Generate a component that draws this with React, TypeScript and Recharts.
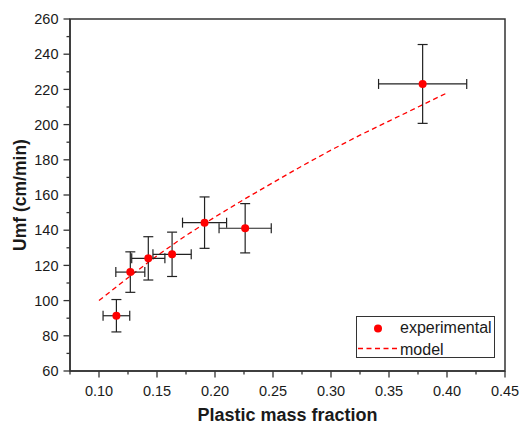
import React from 'react';
import { ComposedChart, XAxis, YAxis, Scatter, Line, ErrorBar, ReferenceArea, Legend } from 'recharts';

// Experimental data
const massFraction = [0.115, 0.127, 0.1425, 0.163, 0.191, 0.226, 0.379];
const umf = [91.4, 116.2, 124.0, 126.3, 144.3, 141.1, 223.1];
const massFractionErr = [0.0115, 0.0125, 0.0143, 0.0165, 0.019, 0.0225, 0.038];
const umfErr = [9.2, 11.5, 12.3, 12.6, 14.6, 14.0, 22.4];

// Model curve
const modelFraction = [0.1, 0.125, 0.15, 0.175, 0.2, 0.225, 0.25, 0.275, 0.3, 0.325, 0.35, 0.375, 0.4];
const modelUmf = [100, 113, 125.5, 137, 147.5, 157.5, 167, 176.5, 185.5, 194, 202, 210, 218];

// Ticks
const xTicks = [0.075, 0.1, 0.125, 0.15, 0.175, 0.2, 0.225, 0.25, 0.275, 0.3, 0.325, 0.35, 0.375, 0.4, 0.425, 0.45];
const yTicks = [60, 70, 80, 90, 100, 110, 120, 130, 140, 150, 160, 170, 180, 190, 200, 210, 220, 230, 240, 250, 260];
const xMajor = [0.1, 0.15, 0.2, 0.25, 0.3, 0.35, 0.4, 0.45];
const yMajor = [60, 80, 100, 120, 140, 160, 180, 200, 220, 240, 260];

const seriesNames = ['experimental', 'model'];

const expData = massFraction.map((x, i) => ({ x, y: umf[i], ex: massFractionErr[i], ey: umfErr[i] }));
const modelData = modelFraction.map((x, i) => ({ x, y: modelUmf[i] }));

const AXIS = '#333333';
const TEXT = '#1a1a1a';
const FONT = '"Liberation Sans", Arial, sans-serif';
const RED = '#ff0000';

const isMajor = (list: number[], v: number) => list.some((m) => Math.abs(m - v) < 1e-9);

const XTick = (props: any) => {
  const { x, y, payload } = props;
  const v = payload.value;
  const major = isMajor(xMajor, v);
  return (
    <g>
      <line x1={x} x2={x} y1={y} y2={y + (major ? 6.5 : 3.5)} stroke={AXIS} strokeWidth={1.3} />
      {major && (
        <text x={x} y={y + 25} textAnchor="middle" fontSize={14.5} fill={TEXT} fontFamily={FONT}>
          {v.toFixed(2)}
        </text>
      )}
    </g>
  );
};

const YTick = (props: any) => {
  const { x, y, payload } = props;
  const v = payload.value;
  const major = isMajor(yMajor, v);
  return (
    <g>
      <line x1={x} x2={x - (major ? 6.5 : 3.5)} y1={y} y2={y} stroke={AXIS} strokeWidth={1.3} />
      {major && (
        <text x={x - 11.5} y={y + 5.1} textAnchor="end" fontSize={14.5} fill={TEXT} fontFamily={FONT}>
          {v}
        </text>
      )}
    </g>
  );
};

const XLabel = (props: any) => {
  const vb = props.viewBox;
  return (
    <text x={vb.x + vb.width / 2} y={vb.y + 49.5} textAnchor="middle" fontSize={18} fontWeight="bold" fill={TEXT} fontFamily={FONT}>
      Plastic mass fraction
    </text>
  );
};

const YLabel = (props: any) => {
  const vb = props.viewBox;
  const cx = 25.5;
  const cy = vb.y + vb.height / 2;
  return (
    <text x={cx} y={cy} textAnchor="middle" transform={`rotate(-90, ${cx}, ${cy})`} fontSize={17.5} fontWeight="bold" fill={TEXT} fontFamily={FONT}>
      Umf (cm/min)
    </text>
  );
};

const Dot = (props: any) => {
  const { cx, cy } = props;
  if (cx == null || cy == null) return null;
  return <circle cx={cx} cy={cy} r={4} fill={RED} stroke="none" />;
};

const NoDot = () => <g />;

const LegendBox = () => (
  <div
    style={{
      border: `1px solid ${AXIS}`,
      width: 139,
      height: 42,
      boxSizing: 'border-box',
      background: '#fff',
      fontFamily: FONT,
      fontSize: 16,
      color: TEXT,
      position: 'relative',
    }}
  >
    <svg width={44} height={42} style={{ position: 'absolute', left: 0, top: 0 }}>
      <circle cx={21} cy={11.5} r={4} fill={RED} />
      <line x1={1} x2={42} y1={31.5} y2={31.5} stroke={RED} strokeWidth={1.3} strokeDasharray="5 3.5" />
    </svg>
    <div style={{ position: 'absolute', left: 43, top: 2, lineHeight: '18px' }}>{seriesNames[0]}</div>
    <div style={{ position: 'absolute', left: 43, top: 24, lineHeight: '18px' }}>{seriesNames[1]}</div>
  </div>
);

export default function App() {
  return (
    <div style={{ position: 'absolute', left: 0, top: 0, background: '#fff' }}>
      <ComposedChart width={520} height={423} margin={{ top: 19, right: 15, bottom: 0, left: 0 }}>
        <XAxis
          type="number"
          dataKey="x"
          domain={[0.075, 0.45]}
          ticks={xTicks}
          interval={0}
          tickSize={0}
          tickMargin={0}
          tickLine={false}
          tick={<XTick />}
          height={52}
          axisLine={{ stroke: AXIS, strokeWidth: 1.5 }}
          allowDataOverflow
          label={(p: any) => <XLabel {...p} />}
        />
        <YAxis
          type="number"
          dataKey="y"
          domain={[60, 260]}
          ticks={yTicks}
          interval={0}
          tickSize={0}
          tickMargin={0}
          tickLine={false}
          tick={<YTick />}
          width={70}
          axisLine={{ stroke: AXIS, strokeWidth: 1.5 }}
          allowDataOverflow
          label={(p: any) => <YLabel {...p} />}
        />
        <ReferenceArea x1={0.075} x2={0.45} y1={60} y2={260} fill="none" stroke={AXIS} strokeWidth={1.5} ifOverflow="visible" />
        <Line
          data={modelData}
          dataKey="y"
          name={seriesNames[1]}
          type="linear"
          stroke={RED}
          strokeWidth={1.3}
          strokeDasharray="5 3.5"
          dot={false}
          activeDot={false}
          isAnimationActive={false}
        />
        <Scatter data={expData} dataKey="y" name="errors" shape={<NoDot />} isAnimationActive={false}>
          <ErrorBar dataKey="ex" direction="x" width={5} stroke="#222" strokeWidth={1.2} isAnimationActive={false} />
          <ErrorBar dataKey="ey" direction="y" width={5} stroke="#222" strokeWidth={1.2} isAnimationActive={false} />
        </Scatter>
        <Scatter data={expData} dataKey="y" name={seriesNames[0]} shape={<Dot />} isAnimationActive={false} />
        <Legend
          layout="vertical"
          align="center"
          verticalAlign="middle"
          wrapperStyle={{ position: 'absolute', left: 356, top: 316, width: 139, height: 42 }}
          content={() => <LegendBox />}
        />
      </ComposedChart>
    </div>
  );
}
